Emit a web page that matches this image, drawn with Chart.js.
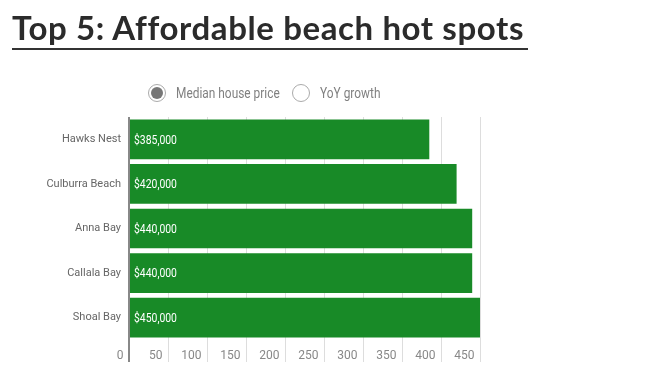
<!DOCTYPE html>
<html lang="en">
<head>
    <meta charset="UTF-8">
    <title>Top 5: Affordable beach hot spots</title>
    <script src="https://cdn.jsdelivr.net/npm/chart.js"></script>
    <style>
        body {
            margin: 0;
            width: 652px;
            height: 383px;
            background: #fff;
            position: relative;
            overflow: hidden;
        }
        h1 {
            position: absolute;
            left: 12px;
            top: 7px;
            margin: 0;
            width: 516px;
            font-family: Lato, "Open Sans", sans-serif;
            font-weight: 700;
            font-size: 33px;
            letter-spacing: 0.6px;
            line-height: 41px;
            color: #2b2b2b;
            border-bottom: 2px solid #333;
            white-space: nowrap;
        }
        .legend {
            position: absolute;
            top: 84px;
            left: 148px;
            display: flex;
            align-items: center;
            font-family: Roboto, sans-serif;
            font-size: 14px;
            color: #808080;
            white-space: nowrap;
        }
        .radio {
            flex: none;
            width: 18px;
            height: 18px;
            border: 1.5px solid #aaa;
            border-radius: 50%;
            box-sizing: border-box;
            margin-right: 10px;
            position: relative;
        }
        .radio.on::after {
            content: "";
            position: absolute;
            left: 1.5px; top: 1.5px;
            width: 12px; height: 12px;
            border-radius: 50%;
            background: #777;
        }
        .item { display: flex; align-items: center; flex: none; }
        .item span.txt { display: inline-block; white-space: nowrap; transform: scaleX(0.85); transform-origin: left center; }
        #chartWrap { position: absolute; left: 0; top: 0; width: 652px; height: 383px; }
    </style>
</head>
<body>
    <div id="chartWrap"><canvas id="beachChart"></canvas></div>
    <h1>Top 5: Affordable beach hot spots</h1>
    <div class="legend">
        <div class="item" style="width:144px"><span class="radio on"></span><span class="txt">Median house price</span></div>
        <div class="item"><span class="radio"></span><span class="txt">YoY growth</span></div>
    </div>
    <script>
        const suburbs = ['Hawks Nest', 'Culburra Beach', 'Anna Bay', 'Callala Bay', 'Shoal Bay'];
        const medianPrice = [385, 420, 440, 440, 450]; // $ thousands
        const xTicks = [0, 50, 100, 150, 200, 250, 300, 350, 400, 450];

        const labelFont = 'Roboto, sans-serif';

        // white price label at the start of each bar
        const barLabels = {
            id: 'barLabels',
            afterDatasetsDraw(chart) {
                const ctx = chart.ctx;
                const meta = chart.getDatasetMeta(0);
                ctx.save();
                ctx.fillStyle = '#fff';
                ctx.font = '13px ' + labelFont;
                ctx.textAlign = 'left';
                ctx.textBaseline = 'middle';
                meta.data.forEach((bar, i) => {
                    const v = medianPrice[i] * 1000;
                    ctx.save();
                    ctx.translate(bar.base + 4, bar.y + 1);
                    ctx.scale(0.8, 1);
                    ctx.fillText('$' + v.toLocaleString('en-US'), 0, 0);
                    ctx.restore();
                });
                ctx.restore();
            }
        };

        const ctx = document.getElementById('beachChart').getContext('2d');
        const beachChart = new Chart(ctx, {
            type: 'bar',
            data: {
                labels: suburbs,
                datasets: [{
                    label: 'Median house price',
                    data: medianPrice,
                    backgroundColor: '#188a27',
                    barPercentage: 0.89,
                    categoryPercentage: 1
                }]
            },
            options: {
                indexAxis: 'y',
                responsive: true,
                maintainAspectRatio: false,
                animation: false,
                layout: { padding: { top: 117, right: 172, left: 0, bottom: 0 } },
                plugins: {
                    legend: { display: false },
                    tooltip: { enabled: false }
                },
                scales: {
                    x: {
                        min: 0,
                        max: 450,
                        afterBuildTicks(axis) {
                            axis.ticks = xTicks.map(v => ({ value: v }));
                        },
                        afterFit(axis) { axis.height = 43; },
                        border: { display: false },
                        grid: {
                            color: c => c.index === 0 ? '#888' : '#ddd',
                            lineWidth: c => c.index === 0 ? 2 : 1,
                            drawTicks: true,
                            tickLength: 22
                        },
                        ticks: {
                            align: 'end',
                            padding: -13,
                            color: '#888',
                            font: { family: labelFont, size: 12 },
                            callback: v => v + ' \u2009'
                        }
                    },
                    y: {
                        afterFit(axis) { axis.width = 129; },
                        border: { display: false },
                        grid: { display: false, drawTicks: false },
                        ticks: {
                            padding: 8,
                            color: '#666',
                            font: { family: labelFont, size: 11 }
                        }
                    }
                }
            },
            plugins: [barLabels]
        });
    </script>
</body>
</html>
